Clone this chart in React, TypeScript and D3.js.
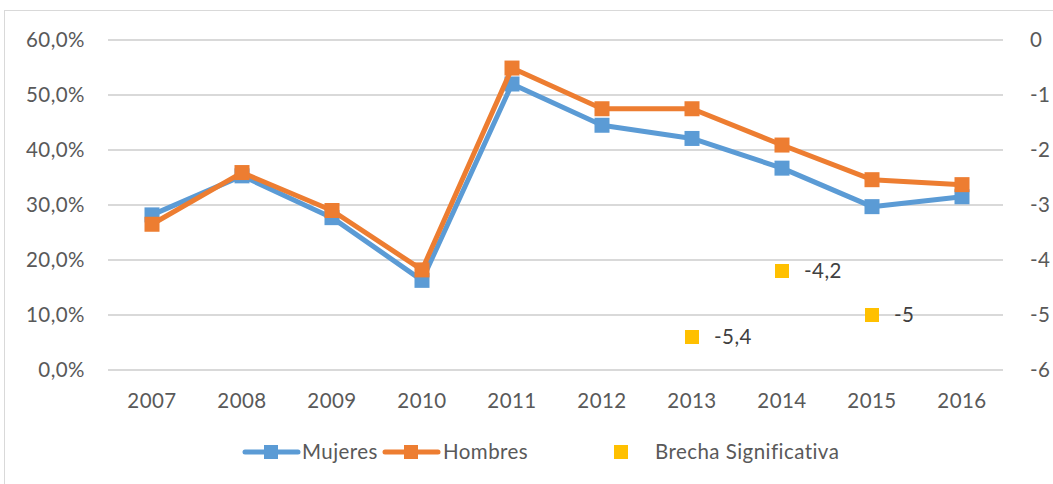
import * as d3 from 'd3'

const YEARS = ['2007', '2008', '2009', '2010', '2011', '2012', '2013', '2014', '2015', '2016']
const MUJERES = [28.2, 35.3, 27.7, 16.3, 52.0, 44.5, 42.1, 36.7, 29.7, 31.5]
const HOMBRES = [26.5, 35.9, 29.0, 18.2, 54.9, 47.5, 47.5, 40.9, 34.6, 33.7]
// brecha significativa (right axis), only some years
const BRECHA_YEARS = ['2013', '2014', '2015']
const BRECHA = [-5.4, -4.2, -5]
const LEFT_TICKS = [0, 10, 20, 30, 40, 50, 60]
const RIGHT_TICKS = [0, -1, -2, -3, -4, -5, -6]

const W = 1053
const H = 484
const FONT = 'Lato, "Open Sans", sans-serif'
const FS = 20.5
const LS = 0.45
const TXT = '#595959'
const BLUE = '#5B9BD5'
const ORANGE = '#ED7D31'
const YELLOW = '#FFC000'

const fmtPct = (v: number) => v.toFixed(1).replace('.', ',') + '%'
const fmtNum = (v: number) => String(v).replace('.', ',')

export default function App() {
  const x = d3.scaleBand<string>().domain(YEARS).range([107, 1007])
  const yL = d3.scaleLinear().domain([0, 60]).range([370, 40])
  const yR = d3.scaleLinear().domain([-6, 0]).range([370, 40])
  const cx = (yr: string) => (x(yr) ?? 0) + x.bandwidth() / 2

  const line = d3.line<number>()
    .x((_, i) => cx(YEARS[i]))
    .y(d => yL(d))

  const series = [
    { name: 'Mujeres', vals: MUJERES, color: BLUE },
    { name: 'Hombres', vals: HOMBRES, color: ORANGE },
  ]
  const ms = 15

  return (
    <svg width={W} height={H} style={{ position: 'absolute', left: 0, top: 0, background: '#fff' }}
      fontFamily={FONT} letterSpacing={LS}>
      <rect x={4.5} y={10.5} width={W + 10} height={H + 10} fill="#fff" stroke="#D9D9D9" strokeWidth={1} />

      {LEFT_TICKS.map(t => (
        <g key={t}>
          <line x1={108} x2={1003} y1={yL(t)} y2={yL(t)} stroke="#D9D9D9" strokeWidth={2} />
          <text x={85} y={yL(t)} dy="0.35em" textAnchor="end" fontSize={FS} fill={TXT}>{fmtPct(t)}</text>
        </g>
      ))}
      {RIGHT_TICKS.map(t => (
        <text key={t} x={1030} y={yR(t)} dy="0.35em" textAnchor="start" fontSize={FS} fill={TXT}>{t === 0 ? '0' : fmtNum(t)}</text>
      ))}
      {YEARS.map(yr => (
        <text key={yr} x={cx(yr)} y={401} dy="0.35em" textAnchor="middle" fontSize={FS} fill={TXT}>{yr}</text>
      ))}

      {series.map(s => (
        <g key={s.name}>
          <path d={line(s.vals) ?? ''} fill="none" stroke={s.color} strokeWidth={5} strokeLinejoin="round" strokeLinecap="round" />
          {s.vals.map((v, i) => (
            <rect key={i} x={cx(YEARS[i]) - ms / 2} y={yL(v) - ms / 2} width={ms} height={ms} fill={s.color} />
          ))}
        </g>
      ))}

      {BRECHA.map((v, i) => (
        <g key={i}>
          <rect x={cx(BRECHA_YEARS[i]) - 7} y={yR(v) - 7} width={14} height={14} fill={YELLOW} />
          <text x={cx(BRECHA_YEARS[i]) + 22} y={yR(v)} dy="0.35em" fontSize={FS} fill="#404040">{fmtNum(v)}</text>
        </g>
      ))}

      {/* legend */}
      <g>
        <line x1={245} x2={298} y1={452} y2={452} stroke={BLUE} strokeWidth={5} strokeLinecap="round" />
        <rect x={271 - 7} y={452 - 7} width={14} height={14} fill={BLUE} />
        <text x={302} y={452} dy="0.35em" fontSize={FS} fill={TXT}>Mujeres</text>
        <line x1={385} x2={438} y1={452} y2={452} stroke={ORANGE} strokeWidth={5} strokeLinecap="round" />
        <rect x={411 - 7} y={452 - 7} width={14} height={14} fill={ORANGE} />
        <text x={443} y={452} dy="0.35em" fontSize={FS} fill={TXT}>Hombres</text>
        <rect x={621 - 7} y={452 - 7} width={14} height={14} fill={YELLOW} />
        <text x={655} y={452} dy="0.35em" fontSize={FS} fill={TXT}>Brecha Significativa</text>
      </g>
    </svg>
  )
}
